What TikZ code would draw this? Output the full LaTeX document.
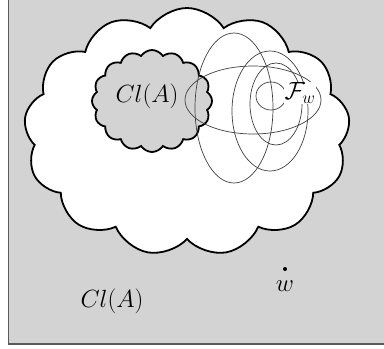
\documentclass[tikz,border=0pt]{standalone}
\usetikzlibrary{shapes.symbols}
\definecolor{bggray}{HTML}{D3D3D3}
\definecolor{framegray}{HTML}{5A5A5A}
\definecolor{ellgray}{HTML}{404040}
\begin{document}
\begin{tikzpicture}[x=1pt,y=-1pt,
  bigtext/.style={font=\fontsize{23}{27}\selectfont, inner sep=1pt},
  ell/.style={draw=ellgray, line width=0.7pt},
  cloudline/.style={draw=black, line width=1.8pt, cloud, cloud ignores aspect, cloud puff arc=115}]
\useasboundingbox (0,0) rectangle (384,349);
\fill[white] (0,0) rectangle (384,349);
\begin{scope}
\clip (0,0) rectangle (384,349);
\filldraw[fill=bggray, draw=framegray, line width=1.5pt] (8.5,-5) rectangle (400,344);
\end{scope}
\node[cloudline, fill=white, cloud puffs=13, minimum width=326pt, minimum height=248pt] (big) at (187,132) {};
\node[cloudline, fill=bggray, cloud puffs=16, minimum width=120pt, minimum height=102pt] (small) at (152,101) {};
\draw[ell] (253,100) ellipse [x radius=68, y radius=34];
\draw[ell] (234,108) ellipse [x radius=39, y radius=75];
\draw[ell] (270,111) ellipse [x radius=38, y radius=60];
\draw[ell] (276,104) ellipse [x radius=26, y radius=41];
\draw[ell] (271,96) ellipse [x radius=15, y radius=14];
\node[bigtext] (cla) at (147,96) {$Cl(A)$};
\node[bigtext, fill=white, inner sep=0.5pt] (fw) at (300,93) {$\mathcal{F}_w$};
\fill (285,269) circle (2pt) coordinate (w);
\node[bigtext] (wl) at (285,286) {$w$};
\node[bigtext] (clb) at (112,301) {$Cl(A)$};
\end{tikzpicture}
\end{document}
